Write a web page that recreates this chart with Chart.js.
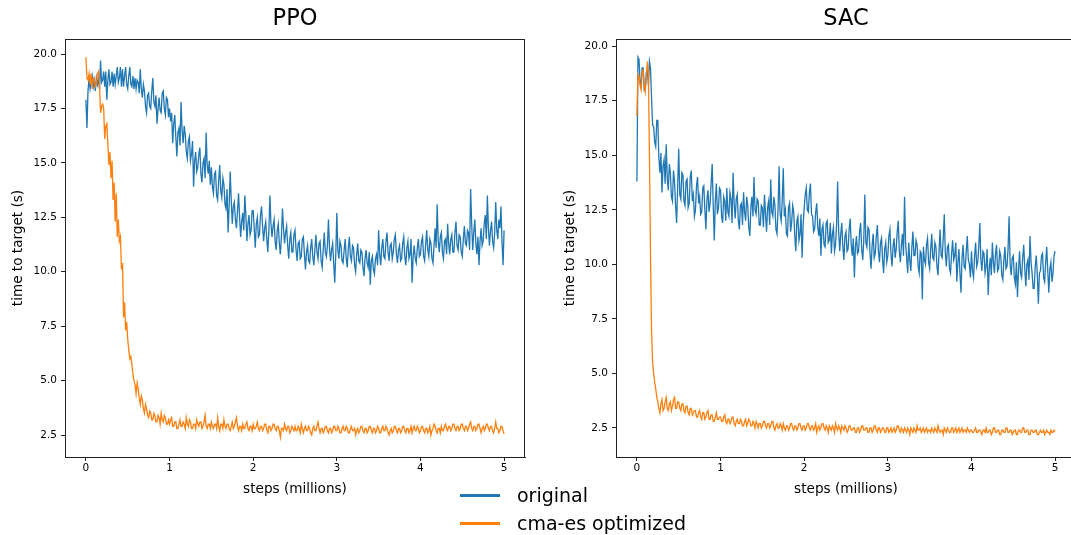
<!DOCTYPE html>
<html>
<head>
<meta charset="utf-8">
<script src="https://cdn.jsdelivr.net/npm/chart.js@4"></script>
<style>
  html, body { margin: 0; padding: 0; background: #fff; width: 1071px; height: 535px; overflow: hidden; }
  .panel { position: absolute; top: 0; height: 535px; }
  #ppoBox { left: 0; width: 535px; }
  #sacBox { left: 540px; width: 540px; }
  .legend { position: absolute; left: 460px; top: 481px; font-family: "DejaVu Sans", sans-serif; font-size: 19px; color: #000; }
  .legend .row { height: 28px; display: flex; align-items: center; }
  .legend .swatch { width: 40px; height: 3px; margin-right: 17px; }
</style>
</head>
<body>
<div class="panel" id="ppoBox"><canvas id="ppoChart"></canvas></div>
<div class="panel" id="sacBox"><canvas id="sacChart"></canvas></div>
<div class="legend">
  <div class="row"><div class="swatch" style="background:#1f77b4"></div><span>original</span></div>
  <div class="row"><div class="swatch" style="background:#ff7f0e"></div><span>cma-es optimized</span></div>
</div>
<script>
// x values, in millions of steps
const steps = [
  0, 0.0125, 0.025, 0.0375, 0.05, 0.0625, 0.075, 0.0875, 0.1, 0.1125, 0.125, 0.1375, 0.15, 0.1625, 0.175, 0.1875, 0.2, 0.2125, 0.225, 0.2375,
  0.25, 0.2625, 0.275, 0.2875, 0.3, 0.3125, 0.325, 0.3375, 0.35, 0.3625, 0.375, 0.3875, 0.4, 0.4125, 0.425, 0.4375, 0.45, 0.4625, 0.475, 0.4875,
  0.5, 0.5125, 0.525, 0.5375, 0.55, 0.5625, 0.575, 0.5875, 0.6, 0.6125, 0.625, 0.6375, 0.65, 0.6625, 0.675, 0.6875, 0.7, 0.7125, 0.725, 0.7375,
  0.75, 0.7625, 0.775, 0.7875, 0.8, 0.8125, 0.825, 0.8375, 0.85, 0.8625, 0.875, 0.8875, 0.9, 0.9125, 0.925, 0.9375, 0.95, 0.9625, 0.975, 0.9875,
  1, 1.0125, 1.025, 1.0375, 1.05, 1.0625, 1.075, 1.0875, 1.1, 1.1125, 1.125, 1.1375, 1.15, 1.1625, 1.175, 1.1875, 1.2, 1.2125, 1.225, 1.2375,
  1.25, 1.2625, 1.275, 1.2875, 1.3, 1.3125, 1.325, 1.3375, 1.35, 1.3625, 1.375, 1.3875, 1.4, 1.4125, 1.425, 1.4375, 1.45, 1.4625, 1.475, 1.4875,
  1.5, 1.5125, 1.525, 1.5375, 1.55, 1.5625, 1.575, 1.5875, 1.6, 1.6125, 1.625, 1.6375, 1.65, 1.6625, 1.675, 1.6875, 1.7, 1.7125, 1.725, 1.7375,
  1.75, 1.7625, 1.775, 1.7875, 1.8, 1.8125, 1.825, 1.8375, 1.85, 1.8625, 1.875, 1.8875, 1.9, 1.9125, 1.925, 1.9375, 1.95, 1.9625, 1.975, 1.9875,
  2, 2.0125, 2.025, 2.0375, 2.05, 2.0625, 2.075, 2.0875, 2.1, 2.1125, 2.125, 2.1375, 2.15, 2.1625, 2.175, 2.1875, 2.2, 2.2125, 2.225, 2.2375,
  2.25, 2.2625, 2.275, 2.2875, 2.3, 2.3125, 2.325, 2.3375, 2.35, 2.3625, 2.375, 2.3875, 2.4, 2.4125, 2.425, 2.4375, 2.45, 2.4625, 2.475, 2.4875,
  2.5, 2.5125, 2.525, 2.5375, 2.55, 2.5625, 2.575, 2.5875, 2.6, 2.6125, 2.625, 2.6375, 2.65, 2.6625, 2.675, 2.6875, 2.7, 2.7125, 2.725, 2.7375,
  2.75, 2.7625, 2.775, 2.7875, 2.8, 2.8125, 2.825, 2.8375, 2.85, 2.8625, 2.875, 2.8875, 2.9, 2.9125, 2.925, 2.9375, 2.95, 2.9625, 2.975, 2.9875,
  3, 3.0125, 3.025, 3.0375, 3.05, 3.0625, 3.075, 3.0875, 3.1, 3.1125, 3.125, 3.1375, 3.15, 3.1625, 3.175, 3.1875, 3.2, 3.2125, 3.225, 3.2375,
  3.25, 3.2625, 3.275, 3.2875, 3.3, 3.3125, 3.325, 3.3375, 3.35, 3.3625, 3.375, 3.3875, 3.4, 3.4125, 3.425, 3.4375, 3.45, 3.4625, 3.475, 3.4875,
  3.5, 3.5125, 3.525, 3.5375, 3.55, 3.5625, 3.575, 3.5875, 3.6, 3.6125, 3.625, 3.6375, 3.65, 3.6625, 3.675, 3.6875, 3.7, 3.7125, 3.725, 3.7375,
  3.75, 3.7625, 3.775, 3.7875, 3.8, 3.8125, 3.825, 3.8375, 3.85, 3.8625, 3.875, 3.8875, 3.9, 3.9125, 3.925, 3.9375, 3.95, 3.9625, 3.975, 3.9875,
  4, 4.0125, 4.025, 4.0375, 4.05, 4.0625, 4.075, 4.0875, 4.1, 4.1125, 4.125, 4.1375, 4.15, 4.1625, 4.175, 4.1875, 4.2, 4.2125, 4.225, 4.2375,
  4.25, 4.2625, 4.275, 4.2875, 4.3, 4.3125, 4.325, 4.3375, 4.35, 4.3625, 4.375, 4.3875, 4.4, 4.4125, 4.425, 4.4375, 4.45, 4.4625, 4.475, 4.4875,
  4.5, 4.5125, 4.525, 4.5375, 4.55, 4.5625, 4.575, 4.5875, 4.6, 4.6125, 4.625, 4.6375, 4.65, 4.6625, 4.675, 4.6875, 4.7, 4.7125, 4.725, 4.7375,
  4.75, 4.7625, 4.775, 4.7875, 4.8, 4.8125, 4.825, 4.8375, 4.85, 4.8625, 4.875, 4.8875, 4.9, 4.9125, 4.925, 4.9375, 4.95, 4.9625, 4.975, 4.9875,
  5
];

const ppoOriginal = [
  17.9, 16.6, 18.3, 18.9, 18.4, 18.7, 19.0, 18.5, 18.8, 18.3, 18.9, 18.6, 18.9, 18.4, 19.7, 18.7, 18.8, 19.2, 18.5, 19.2,
  17.9, 18.8, 19.3, 18.6, 18.7, 19.2, 18.5, 19.1, 18.6, 19.0, 19.4, 18.7, 18.9, 19.4, 18.5, 19.3, 18.5, 19.0, 19.4, 18.6,
  18.4, 19.0, 19.4, 18.6, 18.5, 19.0, 18.4, 18.9, 18.4, 18.8, 18.7, 18.2, 19.3, 18.4, 18.0, 18.6, 18.3, 17.6, 17.3, 18.1,
  18.2, 17.6, 17.5, 18.3, 18.9, 17.8, 17.6, 18.1, 16.8, 17.5, 18.0, 17.4, 17.3, 18.2, 18.3, 17.5, 17.2, 18.0, 17.9, 17.1,
  17.5, 16.9, 17.3, 15.9, 16.8, 17.2, 16.2, 15.3, 16.4, 16.6, 15.8, 17.8, 16.5, 15.9, 16.7, 16.3, 15.5, 15.2, 16.0, 16.2,
  15.1, 15.4, 16.0, 13.9, 15.1, 15.5, 14.6, 14.8, 15.4, 15.7, 14.5, 14.1, 15.0, 15.2, 14.3, 16.4, 14.9, 14.5, 15.1, 14.0,
  14.8, 13.9, 13.6, 14.5, 14.6, 13.5, 13.3, 14.2, 14.9, 13.7, 13.4, 14.3, 14.0, 13.1, 12.9, 13.8, 11.8, 13.0, 14.6, 13.3,
  12.2, 13.0, 13.2, 12.4, 12.0, 12.8, 13.6, 12.5, 11.6, 12.3, 12.7, 11.9, 13.5, 12.6, 11.4, 12.2, 12.6, 11.7, 11.9, 12.8,
  12.8, 12.0, 11.1, 12.2, 12.5, 11.6, 11.7, 12.6, 13.0, 12.1, 11.4, 12.0, 12.3, 11.5, 10.9, 11.9, 13.5, 12.2, 11.6, 12.1,
  12.4, 11.4, 11.0, 11.9, 12.2, 11.3, 10.8, 11.6, 12.9, 12.0, 11.3, 11.8, 12.1, 11.2, 10.6, 11.5, 11.8, 10.9, 10.9, 11.7,
  11.9, 11.0, 10.5, 11.3, 11.4, 10.6, 10.7, 11.5, 11.6, 10.8, 10.1, 10.9, 11.2, 10.5, 10.4, 11.1, 11.5, 10.7, 10.3, 11.0,
  11.7, 10.9, 10.6, 11.3, 11.4, 10.5, 10.2, 11.0, 11.8, 10.9, 10.7, 11.2, 12.4, 11.1, 10.5, 11.0, 11.3, 10.4, 9.5, 10.8,
  12.7, 11.0, 10.6, 11.4, 11.2, 10.5, 10.4, 11.0, 11.5, 10.6, 10.2, 11.1, 11.6, 10.7, 10.5, 11.2, 11.1, 10.3, 10.0, 10.8,
  11.3, 10.5, 10.4, 11.0, 10.9, 10.2, 9.8, 10.6, 11.0, 10.4, 10.2, 10.9, 9.4, 10.5, 10.7, 10.1, 9.9, 10.6, 10.8, 10.3,
  11.9, 10.8, 10.3, 11.1, 11.5, 10.7, 10.6, 11.4, 11.8, 10.9, 10.5, 11.2, 11.3, 10.6, 10.9, 11.5, 11.7, 10.8, 10.4, 11.0,
  11.2, 10.5, 10.6, 11.3, 11.6, 10.7, 10.3, 11.1, 11.4, 10.6, 10.8, 11.5, 9.5, 10.7, 11.2, 10.6, 10.4, 11.1, 11.5, 10.7,
  10.8, 11.4, 11.6, 10.7, 10.5, 11.3, 11.9, 11.0, 10.7, 11.5, 11.3, 10.6, 10.4, 11.2, 12.0, 11.1, 13.1, 11.4, 10.9, 11.6,
  11.8, 10.9, 10.6, 11.4, 11.5, 10.8, 12.2, 11.3, 10.8, 11.5, 11.7, 10.9, 10.9, 11.8, 12.3, 11.2, 11.0, 11.7, 11.6, 10.9,
  10.7, 11.5, 12.1, 11.3, 11.2, 11.9, 11.8, 11.0, 13.8, 12.2, 11.0, 11.8, 12.4, 11.3, 10.8, 11.6, 10.3, 11.4, 12.0, 11.2,
  11.4, 12.2, 12.6, 11.5, 13.5, 12.0, 11.2, 11.9, 12.3, 11.4, 11.1, 11.8, 13.2, 11.9, 11.5, 12.4, 12.0, 13.0, 11.4, 10.3,
  11.9
];

const ppoOptimized = [
  19.85, 18.9, 18.8, 19.1, 18.6, 19.1, 18.4, 18.9, 18.9, 18.5, 18.6, 19.1, 19.2, 18.6, 17.3, 17.6, 17.7, 17.5, 16.1, 16.7,
  16.8, 15.9, 14.9, 15.5, 14.3, 15.1, 13.3, 14.1, 12.3, 13.6, 11.6, 12.4, 11.4, 11.6, 10.1, 10.4, 7.9, 8.6, 7.3, 7.7,
  6.9, 6.4, 6.0, 6.1, 5.7, 5.3, 5.0, 4.8, 4.4, 4.9, 4.6, 4.2, 3.9, 4.3, 4.1, 3.7, 3.5, 3.9, 3.7, 3.4,
  3.3, 3.6, 3.5, 3.2, 3.2, 3.5, 3.4, 3.1, 3.1, 3.4, 3.3, 3.0, 3.5, 3.2, 3.1, 3.4, 3.3, 3.0, 3.0, 3.2,
  3.0, 3.2, 3.3, 2.9, 2.9, 3.1, 3.1, 2.8, 2.8, 3.0, 3.2, 2.9, 2.9, 3.1, 3.0, 2.8, 3.3, 3.0, 2.9, 3.2,
  3.1, 2.8, 2.8, 3.0, 3.0, 2.8, 3.2, 3.0, 2.9, 3.1, 3.1, 2.8, 2.9, 3.1, 3.4, 2.9, 2.8, 3.0, 3.0, 2.8,
  3.1, 2.9, 2.8, 3.0, 3.0, 2.8, 3.3, 2.9, 2.7, 3.0, 3.0, 2.8, 3.2, 2.9, 2.8, 3.0, 3.0, 2.8, 2.7, 2.9,
  3.1, 2.8, 2.9, 3.1, 3.3, 2.9, 2.7, 2.9, 2.9, 2.7, 3.0, 2.8, 2.8, 3.0, 3.1, 2.8, 2.7, 2.9, 2.9, 2.7,
  3.0, 2.8, 2.8, 2.9, 3.1, 2.8, 2.7, 2.9, 2.9, 2.7, 2.8, 3.0, 3.0, 2.7, 2.6, 2.9, 2.9, 2.7, 2.8, 3.0,
  3.0, 2.8, 2.7, 2.9, 2.9, 2.7, 2.4, 2.8, 2.8, 2.7, 3.0, 2.8, 2.7, 2.9, 2.9, 2.6, 2.7, 2.9, 2.8, 2.7,
  2.9, 2.7, 2.7, 2.9, 2.8, 2.6, 3.0, 2.8, 2.6, 2.8, 2.9, 2.7, 2.7, 2.9, 2.8, 2.6, 2.5, 2.8, 2.9, 2.7,
  2.7, 2.9, 3.1, 2.8, 2.6, 2.8, 2.8, 2.6, 2.7, 2.9, 2.9, 2.7, 2.6, 2.8, 2.8, 2.6, 2.7, 2.9, 2.9, 2.7,
  2.7, 2.9, 2.8, 2.6, 2.6, 2.8, 2.9, 2.7, 2.7, 2.9, 2.8, 2.6, 2.6, 2.8, 2.9, 2.7, 2.7, 2.8, 2.5, 2.7,
  2.8, 2.6, 2.7, 2.9, 2.9, 2.7, 2.6, 2.8, 2.8, 2.6, 2.7, 2.9, 2.9, 2.7, 2.6, 2.8, 2.8, 2.6, 2.7, 2.9,
  2.8, 2.6, 2.6, 2.8, 2.9, 2.7, 2.7, 2.9, 2.8, 2.6, 2.5, 2.7, 2.8, 2.6, 2.7, 2.9, 2.9, 2.7, 2.6, 2.8,
  2.8, 2.6, 2.7, 2.9, 2.9, 2.7, 2.6, 2.8, 2.8, 2.6, 2.7, 2.9, 2.6, 2.8, 2.9, 2.7, 2.7, 2.9, 2.8, 2.6,
  2.7, 2.9, 2.9, 2.7, 2.6, 2.8, 2.8, 2.6, 2.7, 2.9, 2.5, 2.7, 2.8, 3.0, 2.9, 2.7, 2.6, 2.8, 2.8, 2.6,
  2.9, 2.7, 2.7, 2.9, 3.0, 2.8, 2.7, 2.9, 2.9, 2.7, 2.8, 3.0, 3.0, 2.8, 2.7, 2.9, 2.9, 2.7, 2.8, 3.0,
  3.0, 2.8, 2.7, 2.9, 2.9, 2.7, 2.8, 3.0, 3.1, 2.8, 2.7, 2.9, 2.9, 2.7, 2.8, 3.0, 3.0, 2.8, 2.6, 2.8,
  2.9, 2.7, 2.8, 3.0, 3.0, 2.8, 2.7, 2.9, 2.9, 2.7, 2.6, 2.8, 3.1, 2.8, 2.8, 2.6, 2.7, 2.9, 2.9, 2.7,
  2.55
];

const sacOriginal = [
  13.8, 19.5, 19.4, 18.4, 18.2, 19.0, 19.0, 18.0, 18.1, 18.8, 18.9, 18.2, 19.3, 19.0, 17.6, 16.4, 16.3, 15.6, 15.4, 16.6,
  16.6, 14.9, 14.2, 15.1, 13.3, 14.5, 14.8, 13.7, 15.5, 14.0, 13.4, 14.6, 14.2, 13.1, 12.9, 14.3, 13.8, 12.7, 11.9, 13.6,
  15.3, 13.2, 13.0, 14.2, 14.1, 12.9, 12.7, 13.8, 13.9, 12.6, 12.8, 14.0, 14.3, 12.9, 13.2, 12.2, 12.5, 13.6, 14.0, 12.8,
  13.1, 12.3, 12.4, 13.5, 13.6, 12.5, 11.6, 13.0, 13.4, 12.4, 12.8, 13.7, 14.6, 12.7, 11.1, 12.9, 13.7, 12.3, 12.6, 13.5,
  13.4, 12.2, 11.9, 13.1, 12.9, 12.0, 13.5, 12.4, 12.2, 13.3, 13.0, 11.9, 14.2, 12.8, 12.1, 13.0, 13.2, 12.0, 11.6, 12.7,
  12.8, 11.8, 13.3, 12.4, 12.0, 13.1, 12.7, 11.7, 11.3, 12.6, 13.1, 12.2, 14.0, 12.5, 12.3, 13.0, 12.9, 11.8, 11.8, 12.7,
  12.6, 11.7, 13.2, 12.3, 11.5, 12.6, 12.9, 11.8, 13.9, 12.4, 12.2, 13.1, 12.7, 11.6, 11.4, 12.5, 14.5, 12.3, 12.0, 12.9,
  14.4, 12.2, 12.5, 11.4, 11.3, 12.6, 12.8, 11.5, 11.9, 12.7, 12.4, 11.3, 10.6, 12.0, 12.2, 11.1, 11.4, 12.3, 10.3, 11.8,
  12.6, 13.2, 13.5, 12.5, 12.4, 13.3, 13.7, 12.3, 12.2, 11.5, 11.6, 12.4, 12.8, 11.7, 11.3, 12.1, 10.4, 11.6, 11.8, 10.9,
  10.8, 11.9, 12.0, 11.0, 11.1, 11.9, 10.5, 11.4, 11.7, 10.6, 10.9, 11.8, 13.8, 11.5, 10.6, 11.4, 11.9, 10.8, 10.2, 11.3,
  11.5, 10.6, 10.7, 11.6, 12.1, 10.9, 10.4, 11.2, 9.4, 10.8, 11.3, 10.5, 10.6, 11.5, 11.9, 10.7, 10.2, 11.1, 13.2, 11.0,
  10.8, 11.7, 11.6, 10.5, 9.8, 10.9, 11.4, 10.3, 10.5, 11.3, 11.8, 10.6, 10.1, 11.0, 11.2, 10.2, 9.6, 10.7, 11.0, 10.1,
  10.4, 11.3, 11.6, 10.5, 9.9, 10.8, 11.2, 10.3, 10.7, 11.5, 12.0, 10.6, 10.1, 10.9, 11.4, 10.4, 13.1, 11.0, 10.3, 9.6,
  11.0, 10.2, 9.7, 10.8, 11.5, 10.4, 10.4, 11.1, 10.9, 9.9, 9.6, 10.6, 10.5, 8.4, 10.8, 10.2, 10.0, 10.9, 11.2, 10.1,
  9.8, 10.7, 11.4, 10.3, 10.2, 11.0, 10.8, 9.9, 9.5, 10.6, 11.6, 10.4, 10.3, 11.2, 12.3, 10.5, 9.9, 10.8, 10.9, 9.8,
  9.6, 10.5, 11.1, 10.2, 10.4, 11.0, 9.2, 10.1, 10.7, 9.6, 8.7, 10.3, 10.9, 9.9, 9.8, 10.6, 11.3, 10.2, 10.0, 9.4,
  10.6, 9.7, 9.4, 10.4, 11.0, 9.9, 10.1, 10.8, 11.9, 10.2, 9.7, 10.6, 10.5, 9.6, 9.9, 10.7, 8.6, 9.8, 10.3, 9.5,
  11.0, 10.1, 9.6, 10.5, 10.9, 9.7, 9.8, 10.6, 10.4, 9.5, 9.3, 10.2, 10.8, 9.8, 9.9, 10.7, 12.2, 10.0, 9.5, 10.3,
  10.4, 9.4, 9.1, 10.1, 8.5, 9.7, 10.6, 9.6, 9.4, 10.3, 10.9, 9.8, 9.0, 10.0, 10.2, 9.3, 11.3, 10.1, 9.6, 8.9,
  8.9, 9.9, 10.4, 9.5, 8.2, 9.6, 9.7, 10.4, 10.5, 9.4, 9.2, 10.1, 10.8, 9.7, 8.7, 9.8, 10.1, 9.2, 9.6, 10.4,
  10.6
];

const sacOptimized = [
  16.8, 18.7, 18.6, 18.2, 18.0, 18.8, 18.9, 18.2, 17.9, 18.6, 19.3, 18.8, 15.0, 10.5, 6.9, 5.5, 5.0, 4.6, 4.3, 3.9,
  3.7, 3.4, 3.2, 3.6, 3.8, 3.3, 3.4, 3.7, 3.9, 3.4, 3.3, 3.6, 3.7, 3.3, 3.5, 3.8, 3.9, 3.4, 3.4, 3.7,
  3.7, 3.4, 3.3, 3.6, 3.6, 3.3, 3.2, 3.5, 3.5, 3.2, 3.1, 3.4, 3.4, 3.1, 3.2, 3.3, 3.3, 3.0, 3.0, 3.2,
  3.3, 3.0, 2.9, 3.2, 3.2, 2.9, 3.0, 3.2, 3.3, 2.9, 2.9, 3.1, 3.1, 2.8, 2.8, 3.0, 3.2, 2.9, 2.9, 3.0,
  3.0, 2.8, 2.8, 3.0, 3.1, 2.8, 2.7, 2.9, 2.9, 2.7, 2.8, 3.0, 3.0, 2.7, 2.6, 2.8, 2.9, 2.7, 2.7, 2.9,
  2.8, 2.6, 2.6, 2.8, 2.9, 2.6, 2.7, 2.9, 2.8, 2.6, 2.6, 2.8, 2.7, 2.5, 2.8, 2.7, 2.5, 2.7, 2.7, 2.5,
  2.6, 2.8, 2.8, 2.6, 2.5, 2.7, 2.7, 2.5, 2.6, 2.8, 2.8, 2.5, 2.4, 2.6, 2.7, 2.5, 2.5, 2.7, 2.6, 2.4,
  2.7, 2.5, 2.4, 2.6, 2.6, 2.4, 2.5, 2.7, 2.7, 2.5, 2.4, 2.6, 2.6, 2.4, 2.5, 2.7, 2.7, 2.5, 2.4, 2.6,
  2.6, 2.4, 2.5, 2.7, 2.7, 2.5, 2.4, 2.6, 2.6, 2.4, 2.5, 2.7, 2.3, 2.5, 2.6, 2.4, 2.5, 2.7, 2.7, 2.5,
  2.4, 2.6, 2.5, 2.3, 2.6, 2.5, 2.4, 2.6, 2.5, 2.3, 2.7, 2.5, 2.4, 2.6, 2.5, 2.3, 2.6, 2.5, 2.4, 2.6,
  2.5, 2.3, 2.4, 2.6, 2.6, 2.4, 2.4, 2.5, 2.5, 2.3, 2.3, 2.5, 2.5, 2.3, 2.4, 2.6, 2.6, 2.4, 2.4, 2.5,
  2.5, 2.3, 2.3, 2.5, 2.5, 2.3, 2.4, 2.6, 2.6, 2.4, 2.3, 2.5, 2.5, 2.3, 2.4, 2.5, 2.5, 2.3, 2.3, 2.5,
  2.5, 2.3, 2.4, 2.5, 2.3, 2.4, 2.5, 2.3, 2.4, 2.6, 2.6, 2.4, 2.3, 2.5, 2.4, 2.3, 2.5, 2.4, 2.3, 2.5,
  2.4, 2.2, 2.5, 2.4, 2.3, 2.5, 2.4, 2.3, 2.6, 2.4, 2.4, 2.5, 2.3, 2.4, 2.5, 2.3, 2.4, 2.5, 2.3, 2.4,
  2.4, 2.3, 2.5, 2.4, 2.3, 2.5, 2.4, 2.3, 2.6, 2.4, 2.3, 2.4, 2.4, 2.2, 2.5, 2.4, 2.3, 2.5, 2.4, 2.3,
  2.3, 2.5, 2.5, 2.3, 2.4, 2.5, 2.3, 2.4, 2.5, 2.3, 2.4, 2.5, 2.3, 2.4, 2.4, 2.3, 2.5, 2.4, 2.3, 2.4,
  2.4, 2.3, 2.3, 2.4, 2.5, 2.3, 2.3, 2.4, 2.4, 2.3, 2.2, 2.4, 2.4, 2.3, 2.5, 2.3, 2.3, 2.4, 2.4, 2.2,
  2.3, 2.5, 2.5, 2.3, 2.3, 2.4, 2.4, 2.2, 2.2, 2.4, 2.4, 2.3, 2.3, 2.5, 2.5, 2.3, 2.3, 2.4, 2.4, 2.2,
  2.3, 2.4, 2.4, 2.2, 2.2, 2.4, 2.4, 2.3, 2.3, 2.5, 2.5, 2.3, 2.3, 2.4, 2.4, 2.2, 2.2, 2.4, 2.4, 2.3,
  2.3, 2.4, 2.4, 2.2, 2.2, 2.3, 2.4, 2.3, 2.3, 2.4, 2.2, 2.3, 2.4, 2.3, 2.3, 2.2, 2.4, 2.3, 2.3, 2.4,
  2.35
];

const xTicks = [0, 1, 2, 3, 4, 5];
const yTicks = [2.5, 5.0, 7.5, 10.0, 12.5, 15.0, 17.5, 20.0];

const FONT = "'DejaVu Sans', sans-serif";
const INK = "#222";

// matplotlib style frame round the plot area
const framePlugin = {
  id: "frame",
  afterDraw(chart) {
    const a = chart.chartArea;
    const ctx = chart.ctx;
    ctx.save();
    ctx.strokeStyle = INK;
    ctx.lineWidth = 1;
    ctx.strokeRect(Math.round(a.left) + 0.5, Math.round(a.top) + 0.5,
      Math.round(a.right - a.left) - 1, Math.round(a.bottom - a.top));
    ctx.restore();
  }
};

function makePanel(canvasId, title, original, optimized, opts) {
  return new Chart(document.getElementById(canvasId), {
    type: "line",
    data: {
      labels: steps,
      datasets: [
        { label: "original", data: original, borderColor: "#1f77b4", order: 1 },
        { label: "cma-es optimized", data: optimized, borderColor: "#ff7f0e", order: 0 }
      ]
    },
    options: {
      responsive: true,
      maintainAspectRatio: false,
      animation: false,
      events: [],
      layout: { padding: { left: 0, right: opts.padRight, top: 0, bottom: 0 } },
      elements: {
        line: { borderWidth: 1.3, tension: 0, fill: false },
        point: { radius: 0 }
      },
      plugins: {
        legend: { display: false },
        tooltip: { enabled: false },
        title: {
          display: true,
          text: title,
          fullSize: false,
          color: "#000",
          font: { family: FONT, size: 22.5, weight: "normal", lineHeight: 1.2 },
          padding: { top: 6, bottom: 6 }
        }
      },
      scales: {
        x: {
          type: "linear",
          min: -0.25,
          max: 5.25,
          afterBuildTicks: s => { s.ticks = xTicks.map(v => ({ value: v })); },
          afterFit: s => { s.height = 78; },
          grid: { display: true, drawOnChartArea: false, drawTicks: true, tickLength: 4, color: INK },
          border: { display: true, color: INK },
          ticks: { color: "#000", padding: 1, maxRotation: 0, font: { family: FONT, size: 10.5 } },
          title: {
            display: true,
            text: "steps (millions)",
            color: "#000",
            font: { family: FONT, size: 13.6, lineHeight: 1.2 },
            padding: { top: 0, bottom: 37 }
          }
        },
        y: {
          min: opts.yMin,
          max: opts.yMax,
          afterBuildTicks: s => { s.ticks = yTicks.map(v => ({ value: v })); },
          afterFit: s => { s.width = opts.yWidth; },
          grid: { display: true, drawOnChartArea: false, drawTicks: true, tickLength: 4, color: INK },
          border: { display: true, color: INK },
          ticks: {
            color: "#000",
            padding: 4,
            font: { family: FONT, size: 10.5 },
            callback: v => Number(v).toFixed(1)
          },
          title: {
            display: true,
            text: "time to target (s)",
            color: "#000",
            font: { family: FONT, size: 13.6, lineHeight: 1.2 },
            padding: { top: opts.yTitlePad, bottom: 0 }
          }
        }
      }
    },
    plugins: [framePlugin]
  });
}

makePanel("ppoChart", "PPO", ppoOriginal, ppoOptimized,
  { yMin: 1.49, yMax: 20.69, yWidth: 65, padRight: 10, yTitlePad: 10 });
makePanel("sacChart", "SAC", sacOriginal, sacOptimized,
  { yMin: 1.17, yMax: 20.33, yWidth: 76, padRight: 4, yTitlePad: 22 });
</script>
</body>
</html>
